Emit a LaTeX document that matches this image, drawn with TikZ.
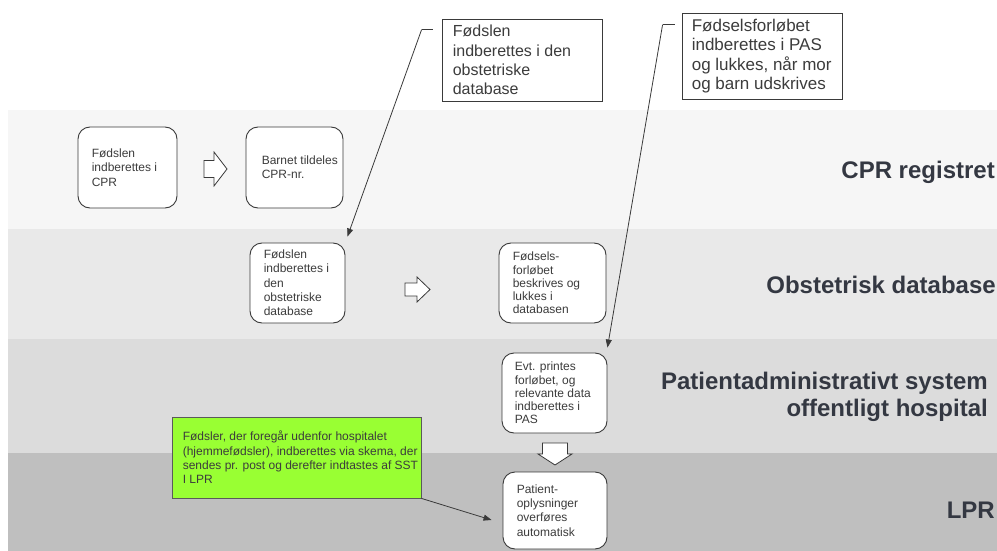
\documentclass[tikz,border=0pt]{standalone}
\usepackage{fontspec}
\setmainfont{Liberation Sans}
\usetikzlibrary{calc,arrows.meta}

\definecolor{bandA}{HTML}{F6F6F6}
\definecolor{bandB}{HTML}{E9E9E9}
\definecolor{bandC}{HTML}{DCDCDC}
\definecolor{bandD}{HTML}{BFBFBF}
\definecolor{lineC}{HTML}{3A3A3A}
\definecolor{textC}{HTML}{3C3C3C}
\definecolor{headC}{HTML}{343842}
\definecolor{noteG}{HTML}{99FF33}
\definecolor{noteB}{HTML}{5A5A5A}

\begin{document}
\begin{tikzpicture}[x=1pt,y=-1pt,
  stepbox/.style={draw=lineC, line width=0.9pt, rounded corners=12pt, fill=white, inner sep=0pt},
  steptext/.style={inner sep=0pt, align=left, anchor=west, text=textC, font=\fontsize{12}{14.3}\selectfont},
  smalltext/.style={steptext, font=\fontsize{12}{13.2}\selectfont},
  callbox/.style={draw=lineC, line width=0.8pt, fill=white, inner sep=0pt},
  calltext/.style={inner sep=0pt, align=left, anchor=west, text=textC},
  bandlabel/.style={inner sep=0pt, anchor=east, text=headC, font=\fontsize{24}{27}\selectfont\bfseries},
  blockarrow/.style={draw=lineC, line width=0.8pt, fill=white, line join=miter},
  leader/.style={draw=lineC, line width=0.8pt},
  pointer/.style={leader, -{Triangle[length=8pt,width=6pt]}}
]
\useasboundingbox (0,0) rectangle (997,551);

% swim lanes
\fill[white] (0,0) rectangle (997,551);
\fill[bandA] (8,110) rectangle (997,229);
\fill[bandB] (8,229) rectangle (997,339);
\fill[bandC] (8,339) rectangle (997,453);
\fill[bandD] (8,453) rectangle (997,551);

% lane titles
\node[bandlabel] (lblCPR) at (995,172) {CPR registret};
\node[bandlabel] (lblObs) at (996,285) {Obstetrisk database};
\node[bandlabel, align=right] (lblPAS) at (988,397) {Patientadministrativt system\\offentligt hospital};
\node[bandlabel] (lblLPR) at (995,510) {LPR};

% process steps
\node[stepbox, minimum width=99, minimum height=81] (A) at (127.5,167.5) {};
\node[steptext] (At) at ([xshift=14]A.west) {Fødslen\\indberettes i\\CPR};

\node[stepbox, minimum width=97, minimum height=81] (B) at (294.5,167.5) {};
\node[steptext] (Bt) at ([xshift=16]B.west) {Barnet tildeles\\CPR-nr.};

\node[stepbox, minimum width=95, minimum height=80] (C) at (297.5,283) {};
\node[steptext] (Ct) at ([xshift=14]C.west) {Fødslen\\indberettes i\\den\\obstetriske\\database};

\node[stepbox, minimum width=107, minimum height=80] (D) at (552.5,283) {};
\node[smalltext] (Dt) at ([xshift=14]D.west) {Fødsels-\\forløbet\\beskrives og\\lukkes i\\databasen};

\node[stepbox, minimum width=105, minimum height=80] (E) at (554.5,393) {};
\node[smalltext] (Et) at ([xshift=13]E.west) {Evt. printes\\forløbet, og\\relevante data\\indberettes i\\PAS};

\node[stepbox, minimum width=104, minimum height=77] (F) at (555,510.5) {};
\node[steptext] (Ft) at ([xshift=14]F.west) {Patient-\\oplysninger\\overføres\\automatisk};

% hollow block arrows between steps
\draw[blockarrow] (204,160.5) -- (214,160.5) -- (214,152) -- (227,169) -- (214,186) -- (214,177.5) -- (204,177.5) -- cycle;
\draw[blockarrow] (405,283) -- (417,283) -- (417,277) -- (430,289.5) -- (417,302) -- (417,296) -- (405,296) -- cycle;
\draw[blockarrow] (542.5,443) -- (567.5,443) -- (567.5,454) -- (572,454) -- (555,465) -- (538,454) -- (542.5,454) -- cycle;

% line callouts
\node[callbox, minimum width=160, minimum height=82] (N1) at (522,60) {};
\node[calltext, font=\fontsize{16}{19.3}\selectfont] (N1t) at ([xshift=11]N1.west) {Fødslen\\indberettes i den\\obstetriske\\database};
\coordinate (N1a) at ($(N1.north west)+(-9,11)$);
\coordinate (N1b) at ($(N1a)+(-11,0)$);
\coordinate (N1e) at ($(C.north east)+(2,-6)$);
\draw[leader] (N1a) -- (N1b);
\draw[pointer] (N1b) -- (N1e);

\node[callbox, minimum width=160, minimum height=86] (N2) at (762,56) {};
\node[calltext, font=\fontsize{17}{19.5}\selectfont] (N2t) at ([xshift=10]N2.west) {Fødselsforløbet\\indberettes i PAS\\og lukkes, når mor\\og barn udskrives};
\coordinate (N2a) at ($(N2.north west)+(-7,12)$);
\coordinate (N2b) at ($(N2a)+(-12,0)$);
\coordinate (N2e) at ($(E.north east)+(0,-5)$);
\draw[leader] (N2a) -- (N2b);
\draw[pointer] (N2b) -- (N2e);

% home births note
\node[draw=noteB, line width=0.8pt, fill=noteG, minimum width=249, minimum height=81, inner sep=0pt] (G) at (296.5,457.5) {};
\node[calltext, font=\fontsize{12}{14.3}\selectfont] (Gt) at ([xshift=11]G.west) {Fødsler, der foregår udenfor hospitalet\\(hjemmefødsler), indberettes via skema, der\\sendes pr. post og derefter indtastes af SST\\I LPR};
\draw[pointer] (G.south east) -- ($(F.west)+(-11,9.5)$);
\end{tikzpicture}
\end{document}
